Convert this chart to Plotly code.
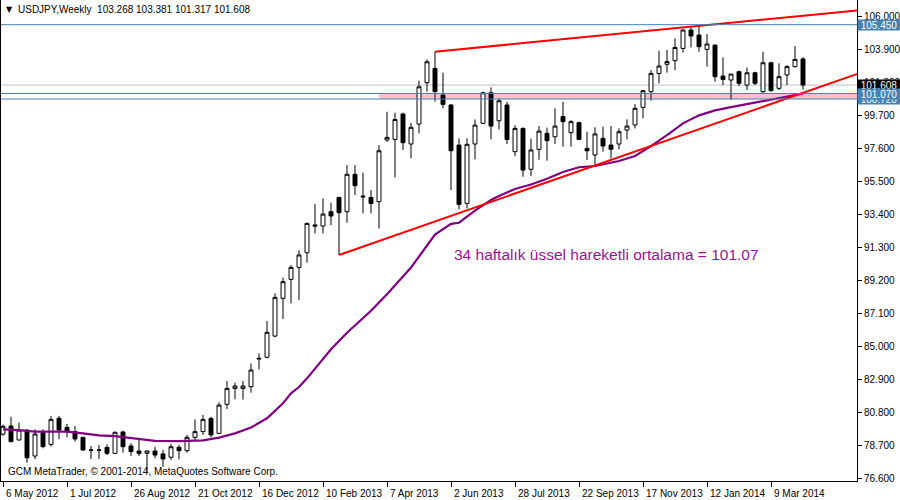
import plotly.graph_objects as go
import pandas as pd

# ---------------- data ----------------
START = "2012-05-06"  # first weekly bar

OPEN = [79.40, 79.92, 79.03, 79.66, 78.01, 79.56, 78.75, 80.41, 79.83, 79.56,
        79.20, 78.40, 78.40, 78.56, 78.18, 79.54, 78.65, 78.33, 78.18, 78.33,
        78.14, 77.93, 78.56, 78.35, 79.20, 79.56, 80.40, 79.45, 81.30, 82.31,
        82.31, 82.42, 84.18, 84.29, 85.64, 88.04, 89.25, 90.01, 90.94, 92.71,
        92.64, 93.55, 94.46, 93.55, 95.93, 94.55, 94.46, 94.19, 98.11, 98.15,
        99.77, 97.86, 99.13, 101.76, 102.67, 100.97, 100.34, 97.79, 94.08, 97.86,
        99.17, 101.12, 99.34, 100.34, 97.37, 98.85, 96.25, 97.52, 98.54, 98.32,
        99.60, 98.58, 99.22, 97.58, 97.16, 98.22, 97.79, 97.86, 98.75, 99.07,
        100.19, 101.19, 102.35, 102.93, 103.16, 103.94, 105.11, 104.79, 103.88, 104.15,
        102.18, 101.93, 102.46, 101.61, 102.39, 101.19, 103.03, 101.40, 102.25, 102.78,
        103.268]
HIGH = [80.00, 80.51, 80.13, 79.70, 79.71, 79.71, 80.56, 80.56, 80.05, 79.92,
        79.22, 78.65, 78.71, 78.75, 79.56, 79.62, 78.82, 79.07, 78.35, 78.60,
        78.39, 78.77, 78.71, 79.35, 80.34, 80.62, 80.51, 81.42, 82.78, 82.67,
        82.78, 83.90, 84.54, 86.60, 88.36, 89.36, 90.16, 91.10, 92.85, 94.04,
        94.40, 94.12, 94.50, 96.52, 96.52, 96.03, 94.93, 97.79, 99.91, 99.85,
        99.85, 99.21, 101.89, 103.24, 103.73, 102.40, 100.40, 98.22, 98.22, 99.42,
        101.19, 101.46, 100.76, 100.55, 99.06, 98.92, 98.20, 99.00, 98.90, 100.13,
        100.55, 99.38, 99.28, 98.64, 98.92, 98.96, 99.00, 98.85, 99.43, 100.40,
        101.29, 102.56, 103.79, 103.84, 104.58, 105.15, 105.28, 105.44, 104.85, 104.20,
        103.37, 102.31, 102.52, 102.73, 102.46, 103.73, 103.09, 102.99, 102.88, 104.09,
        103.381]
LOW = [79.30, 78.90, 79.00, 77.59, 77.80, 78.50, 78.60, 79.07, 79.20, 78.92,
       78.35, 77.82, 77.82, 78.07, 78.14, 78.22, 78.01, 78.01, 77.00, 77.86,
       77.33, 77.76, 77.80, 78.22, 79.03, 79.35, 79.20, 79.41, 81.00, 81.62,
       81.60, 82.04, 83.52, 84.22, 85.56, 86.73, 87.72, 87.93, 90.31, 92.17,
       92.17, 92.70, 90.80, 92.85, 94.61, 93.45, 93.45, 92.49, 98.00, 95.74,
       97.48, 96.95, 98.54, 101.19, 100.55, 100.13, 94.93, 93.70, 93.76, 96.88,
       99.13, 98.15, 98.79, 97.86, 97.09, 95.78, 95.82, 96.86, 96.80, 97.86,
       97.69, 97.69, 98.11, 96.84, 96.42, 97.37, 96.94, 97.52, 98.15, 98.85,
       99.49, 100.61, 101.72, 102.40, 102.56, 103.67, 104.00, 103.73, 102.78, 101.82,
       101.61, 100.66, 101.55, 101.29, 101.61, 101.08, 101.19, 101.29, 101.61, 102.73,
       101.317]
CLOSE = [79.90, 78.92, 79.66, 77.90, 79.41, 78.61, 80.34, 79.66, 79.56, 79.09,
         78.39, 78.38, 78.38, 78.18, 79.52, 78.60, 78.29, 78.18, 78.33, 78.07,
         77.82, 78.60, 78.35, 79.20, 79.56, 80.34, 79.35, 81.25, 82.31, 82.46,
         82.46, 83.48, 84.22, 85.88, 88.10, 89.10, 90.01, 90.80, 92.81, 92.64,
         93.40, 93.28, 93.49, 95.93, 95.21, 94.50, 94.08, 97.43, 98.28, 99.42,
         97.94, 98.92, 101.50, 103.09, 101.19, 100.38, 97.43, 94.02, 97.84, 99.06,
         101.12, 99.00, 100.61, 98.15, 98.85, 96.20, 97.48, 98.68, 98.07, 99.00,
         99.28, 99.28, 98.15, 97.43, 98.50, 97.73, 97.52, 98.64, 99.00, 100.13,
         101.25, 102.35, 102.82, 103.10, 104.00, 105.11, 104.73, 104.05, 104.22, 102.14,
         101.97, 102.31, 101.72, 102.39, 101.72, 103.03, 101.25, 102.14, 102.78, 103.24,
         101.608]

# 34-week EMA (bar index, value)
MA_BARS = [0, 2, 4, 8, 10, 12, 14, 16, 19, 22, 25, 27, 29, 31, 33, 35, 36, 37, 38,
           41, 43, 46, 48, 51, 54, 56, 57, 59, 61, 62, 64, 66, 68, 70, 72, 74, 77,
           79, 81, 83, 85, 87, 89, 91, 93, 95, 97, 99, 100]
MA_VALUES = [79.70, 79.66, 79.56, 79.56, 79.45, 79.32, 79.28, 79.15, 78.97, 78.96,
             79.01, 79.18, 79.45, 79.82, 80.41, 81.36, 82.00, 82.40, 82.95, 84.80,
             85.85, 87.25, 88.30, 90.00, 92.10, 92.78, 92.85, 93.62, 94.30, 94.55,
             95.00, 95.28, 95.65, 96.08, 96.38, 96.46, 96.78, 97.10, 97.72, 98.43,
             99.17, 99.68, 100.00, 100.20, 100.40, 100.58, 100.78, 100.98, 101.07]

# trend lines (bar index, price)
SUPPORT_BARS = [42, 107]
SUPPORT_PRICES = [90.80, 102.36]
RESIST_BARS = [54, 107]
RESIST_PRICES = [103.73, 106.37]

# horizontal levels
LEVEL_HIGH = 105.450
LEVEL_EMA = 101.070
LEVEL_ZONE_LOW = 100.720
LAST_PRICE = 101.608
ZONE_START_BAR = 47

TICK_LABELS = ["6 May 2012", "1 Jul 2012", "26 Aug 2012", "21 Oct 2012", "16 Dec 2012",
               "10 Feb 2013", "7 Apr 2013", "2 Jun 2013", "28 Jul 2013", "22 Sep 2013",
               "17 Nov 2013", "12 Jan 2014", "9 Mar 2014"]
PRICE_TICKS = [106.0, 103.9, 101.8, 99.7, 97.6, 95.5, 93.4, 91.3, 89.2, 87.1,
               85.0, 82.9, 80.8, 78.7, 76.6]

TITLE = "USDJPY,Weekly\u00a0\u00a0103.268 103.381 101.317 101.608"
NOTE = "34 haftalık üssel hareketli ortalama = 101.07"
COPYRIGHT = "GCM MetaTrader, © 2001-2014, MetaQuotes Software Corp."

# ---------------- figure ----------------
t0 = pd.Timestamp(START)


def bar_date(i):
    return t0 + pd.Timedelta(days=7 * i)


dates = [bar_date(i) for i in range(len(OPEN))]
FONT = "Liberation Sans, Arial, sans-serif"
BLUE = "#4682B4"
PURPLE = "#800080"

fig = go.Figure()

fig.add_trace(go.Candlestick(
    x=dates, open=OPEN, high=HIGH, low=LOW, close=CLOSE,
    increasing=dict(fillcolor="white", line=dict(color="black", width=1)),
    decreasing=dict(fillcolor="black", line=dict(color="black", width=1)),
    whiskerwidth=0, hoverinfo="skip", showlegend=False,
))

fig.add_trace(go.Scatter(
    x=[bar_date(i) for i in MA_BARS], y=MA_VALUES, mode="lines",
    line=dict(color=PURPLE, width=2.2), hoverinfo="skip", showlegend=False,
))

fig.add_trace(go.Scatter(
    x=[bar_date(i) for i in SUPPORT_BARS], y=SUPPORT_PRICES, mode="lines",
    line=dict(color="#FF0000", width=2), hoverinfo="skip", showlegend=False,
))
fig.add_trace(go.Scatter(
    x=[bar_date(i) for i in RESIST_BARS], y=RESIST_PRICES, mode="lines",
    line=dict(color="#FF0000", width=2), hoverinfo="skip", showlegend=False,
))

# pink zone and horizontal lines
fig.add_shape(type="rect", xref="x", yref="y", layer="below",
              x0=bar_date(ZONE_START_BAR), x1=bar_date(106.75),
              y0=LEVEL_ZONE_LOW, y1=LEVEL_EMA,
              fillcolor="#FFC0CB", line=dict(width=0))
fig.add_shape(type="line", xref="paper", yref="y", x0=0, x1=1,
              y0=LAST_PRICE, y1=LAST_PRICE, line=dict(color="#C0C0C0", width=1),
              layer="below")
for lv in [LEVEL_HIGH, LEVEL_EMA, LEVEL_ZONE_LOW]:
    fig.add_shape(type="line", xref="paper", yref="y", x0=0, x1=1,
                  y0=lv, y1=lv, line=dict(color=BLUE, width=1))

annotations = []
# date labels
for lab in TICK_LABELS:
    annotations.append(dict(
        x=pd.Timestamp(lab), xref="x", y=0, yref="paper", yanchor="top",
        xanchor="left", xshift=1, yshift=-5, text=lab, showarrow=False,
        font=dict(family=FONT, size=10, color="black")))

# price labels on the right
for val, bg in [(LEVEL_HIGH, BLUE), (LEVEL_ZONE_LOW, BLUE), (LAST_PRICE, "black"),
                (LEVEL_EMA, BLUE)]:
    annotations.append(dict(
        x=1, xref="paper", y=val, yref="y", xanchor="left", yanchor="middle",
        xshift=0, text=f"{val:.3f}", showarrow=False, bgcolor=bg,
        width=42, height=10, borderpad=0, align="center",
        font=dict(family=FONT, size=10, color="white")))

annotations.append(dict(
    x=0, xref="paper", y=1, yref="paper", xanchor="left", yanchor="top",
    xshift=3, yshift=-3, text="▼", showarrow=False,
    font=dict(family="DejaVu Sans", size=8, color="black")))
annotations.append(dict(
    x=0, xref="paper", y=1, yref="paper", xanchor="left", yanchor="top",
    xshift=15, yshift=-2, text=TITLE, showarrow=False,
    font=dict(family=FONT, size=10, color="black")))
annotations.append(dict(
    x=0, xref="paper", y=0, yref="paper", xanchor="left", yanchor="bottom",
    xshift=5, yshift=2, text=COPYRIGHT, showarrow=False,
    font=dict(family=FONT, size=10, color="black")))
annotations.append(dict(
    x=(452 - 1) / 856, xref="paper", y=1 - 254 / 481, yref="paper",
    xanchor="left", yanchor="middle", text=NOTE, showarrow=False,
    font=dict(family=FONT, size=15.5, color="#9A119A")))

fig.update_layout(
    width=900, height=500,
    margin=dict(l=1, r=43, t=0, b=19),
    paper_bgcolor="white", plot_bgcolor="white",
    showlegend=False, hovermode=False,
    annotations=annotations,
    boxgap=0.3,
    xaxis=dict(
        type="date", range=[bar_date(-0.25), bar_date(106.75)],
        rangeslider=dict(visible=False),
        tickvals=[pd.Timestamp(l) for l in TICK_LABELS],
        showticklabels=False, ticks="outside", ticklen=5, tickcolor="black",
        showgrid=False, zeroline=False,
        showline=True, linecolor="black", linewidth=1,
    ),
    yaxis=dict(
        side="right", range=[76.42, 107.02],
        tickvals=PRICE_TICKS, tickformat=".3f",
        ticks="outside", ticklen=4, tickcolor="black",
        tickfont=dict(family=FONT, size=10, color="black"),
        showgrid=False, zeroline=False,
        showline=True, linecolor="black", linewidth=1, mirror=True,
    ),
)

fig.write_html("out.html", config={"displayModeBar": False},
               post_script="document.body.style.margin='0';")
